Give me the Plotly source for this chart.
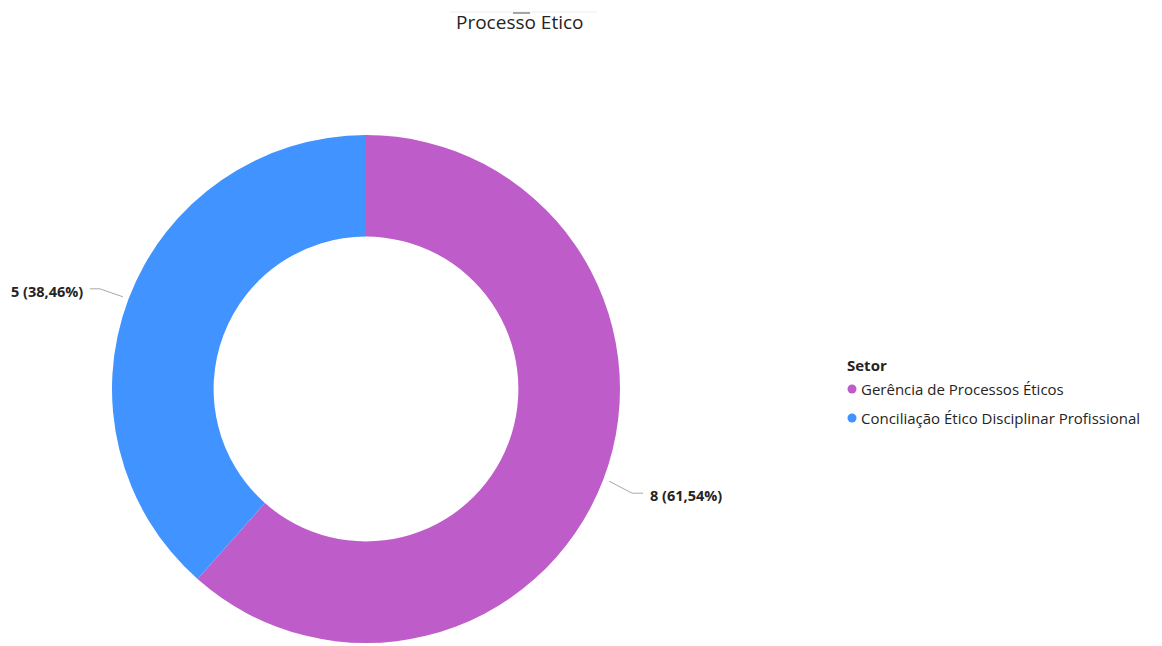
import math
import plotly.graph_objects as go

# ---- data ----
categories = ["Gerência de Processos Éticos", "Conciliação Ético Disciplinar Profissional"]
values = [8, 5]
colors = ["#BE5DC9", "#4193FF"]
title_text = "Processo Etico"
legend_title = "Setor"

W, H = 1162, 646
OFF = 8  # page body margin in the browser
# pie geometry in (screen) pixels
cx, cy, R = 366, 389, 254
hole = 0.6
TXT = "#252423"

def px_to_paper(x, y):
    return (x - OFF) / W, 1 - (y - OFF) / H

fig = go.Figure()

x0, y1 = px_to_paper(cx - R, cy - R)
x1, y0 = px_to_paper(cx + R, cy + R)
fig.add_trace(go.Pie(
    labels=categories, values=values, hole=hole,
    marker=dict(colors=colors, line=dict(width=0)),
    sort=False, direction="clockwise", rotation=0,
    textinfo="none", hoverinfo="label+value+percent",
    showlegend=False,
    domain=dict(x=[x0, x1], y=[y0, y1]),
))

# outside labels with elbow leader lines, computed from the data
total = sum(values)
start = 0.0
shapes = []
annotations = []
for v in values:
    frac = v / total
    mid = start + frac / 2
    start += frac
    ang = math.radians(90 - mid * 360)
    ex, ey = cx + (R + 6) * math.cos(ang), cy - (R + 6) * math.sin(ang)
    side = 1 if math.cos(ang) >= 0 else -1
    if side > 0:
        kx, ky = ex + 23, ey + 12
        hx = kx + 11
        ty = ky + 2
    else:
        kx, ky = ex - 23, ey - 8
        hx = kx - 10
        ty = ky + 3
    p0 = px_to_paper(ex, ey)
    p1 = px_to_paper(kx, ky)
    p2 = px_to_paper(hx, ky)
    shapes.append(dict(type="path", xref="paper", yref="paper",
                       path=f"M {p0[0]},{p0[1]} L {p1[0]},{p1[1]} L {p2[0]},{p2[1]}",
                       line=dict(color="#A8A8A8", width=1)))
    pct = f"{frac*100:.2f}".replace(".", ",")
    tpos = px_to_paper(hx + side * 5, ty)
    annotations.append(dict(x=tpos[0], y=tpos[1], xref="paper", yref="paper",
                            text=f"<b>{v} ({pct}%)</b>", showarrow=False,
                            xanchor="left" if side > 0 else "right", yanchor="middle",
                            font=dict(family="Open Sans", size=14.5, color=TXT)))

# faint line above title and small handle
tl0 = px_to_paper(450, 12)
tl1 = px_to_paper(597, 12)
shapes.append(dict(type="line", xref="paper", yref="paper", x0=tl0[0], x1=tl1[0], y0=tl0[1], y1=tl0[1],
                   line=dict(color="#EDEDED", width=1)))
hd0 = px_to_paper(513, 13)
hd1 = px_to_paper(530, 13)
shapes.append(dict(type="line", xref="paper", yref="paper", x0=hd0[0], x1=hd1[0], y0=hd0[1], y1=hd0[1],
                   line=dict(color="#888888", width=1.5)))

tp = px_to_paper(520, 22)
annotations.append(dict(x=tp[0], y=tp[1], xref="paper", yref="paper", text=title_text,
                        showarrow=False, xanchor="center", yanchor="middle",
                        font=dict(family="Open Sans", size=19, color=TXT)))

# legend drawn as circles + text
lg = px_to_paper(845, 365)
annotations.append(dict(x=lg[0], y=lg[1], xref="paper", yref="paper", text=f"<b>{legend_title}</b>",
                        showarrow=False, xanchor="left", yanchor="middle",
                        font=dict(family="Open Sans", size=15, color=TXT)))
for i, (name, col) in enumerate(zip(categories, colors)):
    yy = 389 + i * 29
    c0 = px_to_paper(847.5, yy - 4.5)
    c1 = px_to_paper(856.5, yy + 4.5)
    shapes.append(dict(type="circle", xref="paper", yref="paper",
                       x0=c0[0], x1=c1[0], y0=c1[1], y1=c0[1],
                       fillcolor=col, line=dict(width=0)))
    mp = px_to_paper(859, yy)
    annotations.append(dict(x=mp[0], y=mp[1], xref="paper", yref="paper",
                            text=name,
                            showarrow=False, xanchor="left", yanchor="middle",
                            font=dict(family="Open Sans", size=15, color=TXT)))

fig.update_layout(
    width=W, height=H,
    margin=dict(l=0, r=0, t=0, b=0),
    paper_bgcolor="white", plot_bgcolor="white",
    shapes=shapes, annotations=annotations,
    showlegend=False,
    font=dict(family="Open Sans"),
)

fig.write_html("out.html")
